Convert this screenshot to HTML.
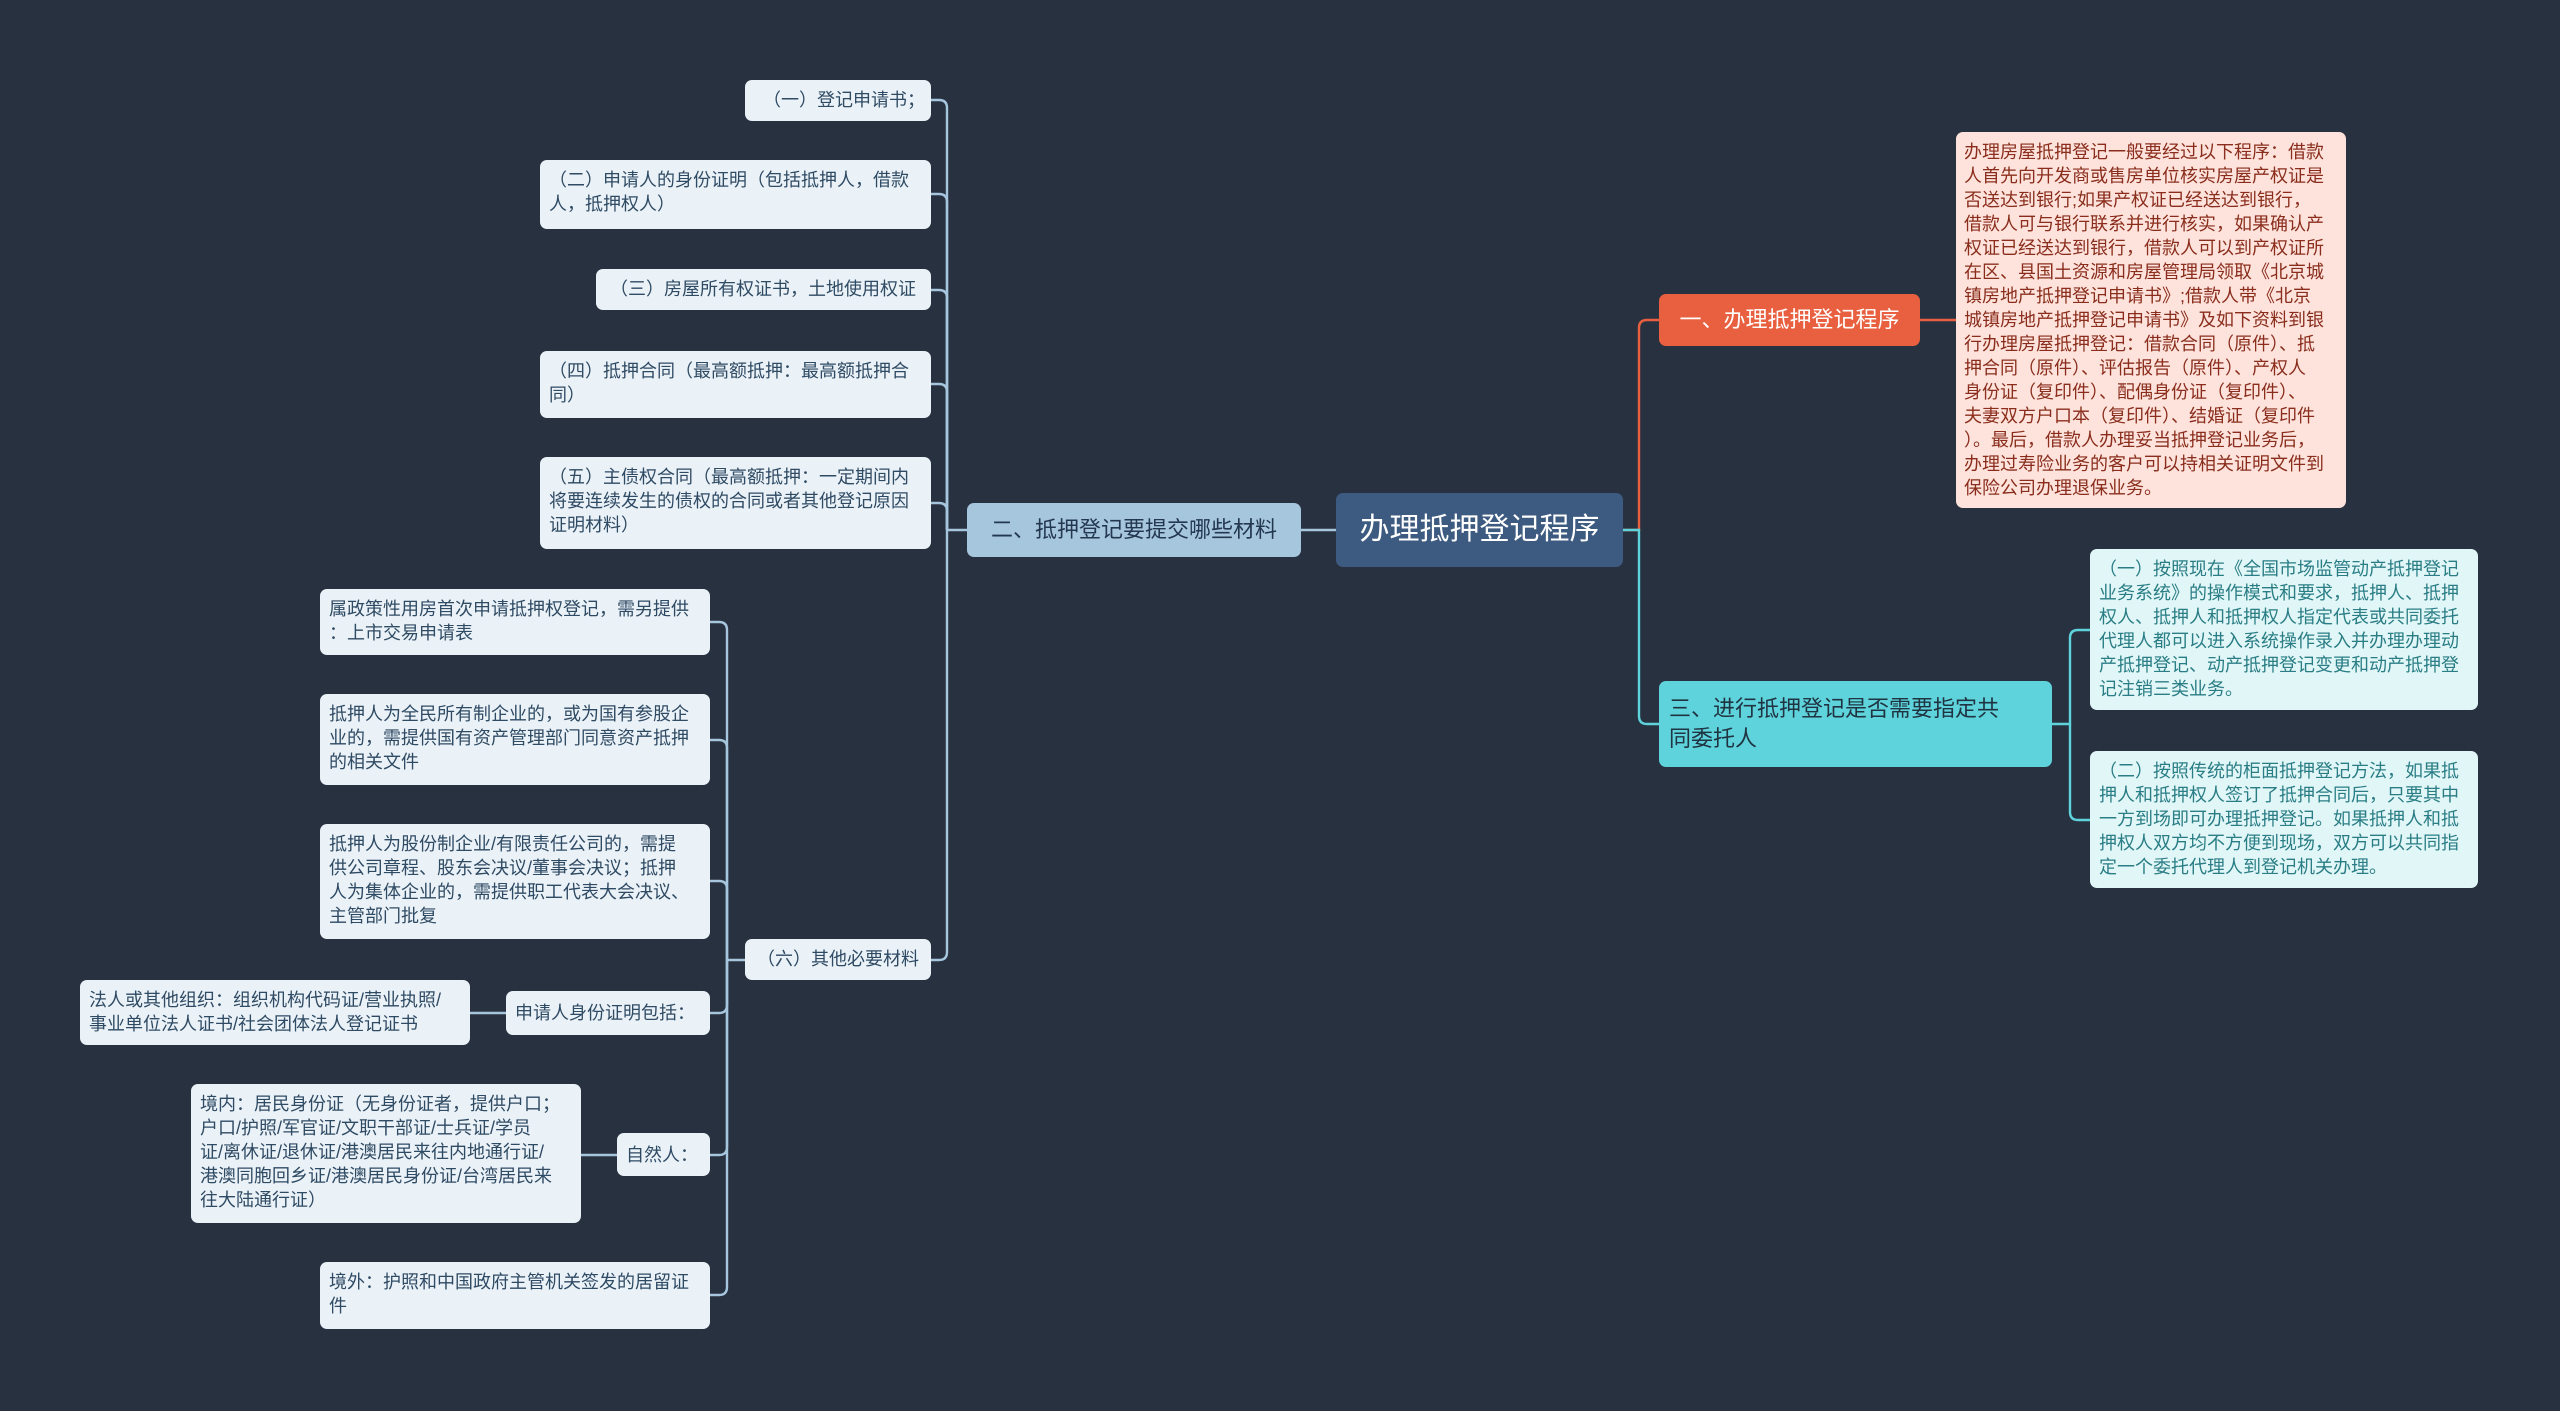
<!DOCTYPE html>
<html><head><meta charset="utf-8"><style>
body{margin:0;width:2560px;height:1411px;background:#283140;overflow:hidden;position:relative;font-family:"Liberation Sans","Noto Sans CJK SC",sans-serif}
.b{position:absolute;box-sizing:border-box;border-radius:7px;white-space:nowrap}
.i{background:#eaf2f8;color:#2f4a63;font-size:18px;line-height:24px;padding:8px 9px}
.c{background:#e0f6f7;color:#2a7d85;font-size:18px;line-height:24px;padding:8px 9px}
svg{position:absolute;left:0;top:0}
</style></head><body>
<svg width="2560" height="1411" fill="none" stroke-width="2.4">
<g stroke="#a6c6de">
<path d="M1336 530 H1301"/>
<path d="M967 530 H947"/>
<path d="M947 530 V108 Q947 100 939 100 H931"/>
<path d="M947 530 V202 Q947 194 939 194 H931"/>
<path d="M947 530 V298 Q947 290 939 290 H931"/>
<path d="M947 530 V392 Q947 384 939 384 H931"/>
<path d="M947 530 V511 Q947 503 939 503 H931"/>
<path d="M947 530 V952 Q947 960 939 960 H931"/>
<path d="M745 960 H727"/>
<path d="M727 960 V630 Q727 622 719 622 H710"/>
<path d="M727 960 V748 Q727 740 719 740 H710"/>
<path d="M727 960 V889 Q727 881 719 881 H710"/>
<path d="M727 960 V1005 Q727 1013 719 1013 H710"/>
<path d="M727 960 V1147 Q727 1155 719 1155 H710"/>
<path d="M727 960 V1287 Q727 1295 719 1295 H710"/>
<path d="M506 1013 H470"/>
<path d="M617 1155 H581"/>
</g>
<g stroke="#e8603f">
<path d="M1623 530 H1639 V328 Q1639 320 1647 320 H1659"/>
<path d="M1920 320 H1956"/>
</g>
<g stroke="#5ed3dc">
<path d="M1623 530 H1639 V716 Q1639 724 1647 724 H1659"/>
<path d="M2052 724 H2070 V638 Q2070 630 2078 630 H2090"/>
<path d="M2070 724 V812 Q2070 820 2078 820 H2090"/>
</g>
</svg>

<div class="b" style="left:1336px;top:493px;width:287px;height:74px;background:#3d5a80;color:#fff;font-size:30px;line-height:74px;text-align:center">办理抵押登记程序</div>

<div class="b" style="left:967px;top:503px;width:334px;height:54px;background:#a6c6de;color:#23384f;font-size:22px;line-height:54px;text-align:center">二、抵押登记要提交哪些材料</div>

<div class="b" style="left:1659px;top:294px;width:261px;height:52px;background:#e8603f;color:#fff;font-size:22px;line-height:52px;text-align:center">一、办理抵押登记程序</div>

<div class="b" style="left:1659px;top:681px;width:393px;height:86px;background:#5ed3dc;color:#1f3340;font-size:22px;line-height:30px;padding:13px 10px">三、进行抵押登记是否需要指定共<br>同委托人</div>

<div class="b" style="left:1956px;top:132px;width:390px;height:376px;background:#fde3dc;color:#8a2d1c;font-size:18px;line-height:24px;padding:8px 8px">办理房屋抵押登记一般要经过以下程序：借款<br>人首先向开发商或售房单位核实房屋产权证是<br>否送达到银行;如果产权证已经送达到银行，<br>借款人可与银行联系并进行核实，如果确认产<br>权证已经送达到银行，借款人可以到产权证所<br>在区、县国土资源和房屋管理局领取《北京城<br>镇房地产抵押登记申请书》;借款人带《北京<br>城镇房地产抵押登记申请书》及如下资料到银<br>行办理房屋抵押登记：借款合同（原件）、抵<br>押合同（原件）、评估报告（原件）、产权人<br>身份证（复印件）、配偶身份证（复印件）、<br>夫妻双方户口本（复印件）、结婚证（复印件<br>）。最后，借款人办理妥当抵押登记业务后，<br>办理过寿险业务的客户可以持相关证明文件到<br>保险公司办理退保业务。</div>

<div class="b c" style="left:2090px;top:549px;width:388px;height:161px">（一）按照现在《全国市场监管动产抵押登记<br>业务系统》的操作模式和要求，抵押人、抵押<br>权人、抵押人和抵押权人指定代表或共同委托<br>代理人都可以进入系统操作录入并办理办理动<br>产抵押登记、动产抵押登记变更和动产抵押登<br>记注销三类业务。</div>
<div class="b c" style="left:2090px;top:751px;width:388px;height:137px">（二）按照传统的柜面抵押登记方法，如果抵<br>押人和抵押权人签订了抵押合同后，只要其中<br>一方到场即可办理抵押登记。如果抵押人和抵<br>押权人双方均不方便到现场，双方可以共同指<br>定一个委托代理人到登记机关办理。</div>

<div class="b i" style="left:745px;top:80px;width:186px;height:41px;padding-left:18px">（一）登记申请书；</div>
<div class="b i" style="left:540px;top:160px;width:391px;height:69px">（二）申请人的身份证明（包括抵押人，借款<br>人，抵押权人）</div>
<div class="b i" style="left:596px;top:269px;width:335px;height:41px;padding-left:14px">（三）房屋所有权证书，土地使用权证</div>
<div class="b i" style="left:540px;top:351px;width:391px;height:67px">（四）抵押合同（最高额抵押：最高额抵押合<br>同）</div>
<div class="b i" style="left:540px;top:457px;width:391px;height:92px">（五）主债权合同（最高额抵押：一定期间内<br>将要连续发生的债权的合同或者其他登记原因<br>证明材料）</div>
<div class="b i" style="left:745px;top:939px;width:186px;height:41px;padding-left:12px">（六）其他必要材料</div>

<div class="b i" style="left:320px;top:589px;width:390px;height:66px">属政策性用房首次申请抵押权登记，需另提供<br>：上市交易申请表</div>
<div class="b i" style="left:320px;top:694px;width:390px;height:91px">抵押人为全民所有制企业的，或为国有参股企<br>业的，需提供国有资产管理部门同意资产抵押<br>的相关文件</div>
<div class="b i" style="left:320px;top:824px;width:390px;height:115px">抵押人为股份制企业/有限责任公司的，需提<br>供公司章程、股东会决议/董事会决议；抵押<br>人为集体企业的，需提供职工代表大会决议、<br>主管部门批复</div>
<div class="b i" style="left:506px;top:991px;width:204px;height:44px;padding-top:10px">申请人身份证明包括：</div>
<div class="b i" style="left:80px;top:980px;width:390px;height:65px">法人或其他组织：组织机构代码证/营业执照/<br>事业单位法人证书/社会团体法人登记证书</div>
<div class="b i" style="left:617px;top:1133px;width:93px;height:43px;padding-top:10px">自然人：</div>
<div class="b i" style="left:191px;top:1084px;width:390px;height:139px">境内：居民身份证（无身份证者，提供户口；<br>户口/护照/军官证/文职干部证/士兵证/学员<br>证/离休证/退休证/港澳居民来往内地通行证/<br>港澳同胞回乡证/港澳居民身份证/台湾居民来<br>往大陆通行证）</div>
<div class="b i" style="left:320px;top:1262px;width:390px;height:67px">境外：护照和中国政府主管机关签发的居留证<br>件</div>
</body></html>
